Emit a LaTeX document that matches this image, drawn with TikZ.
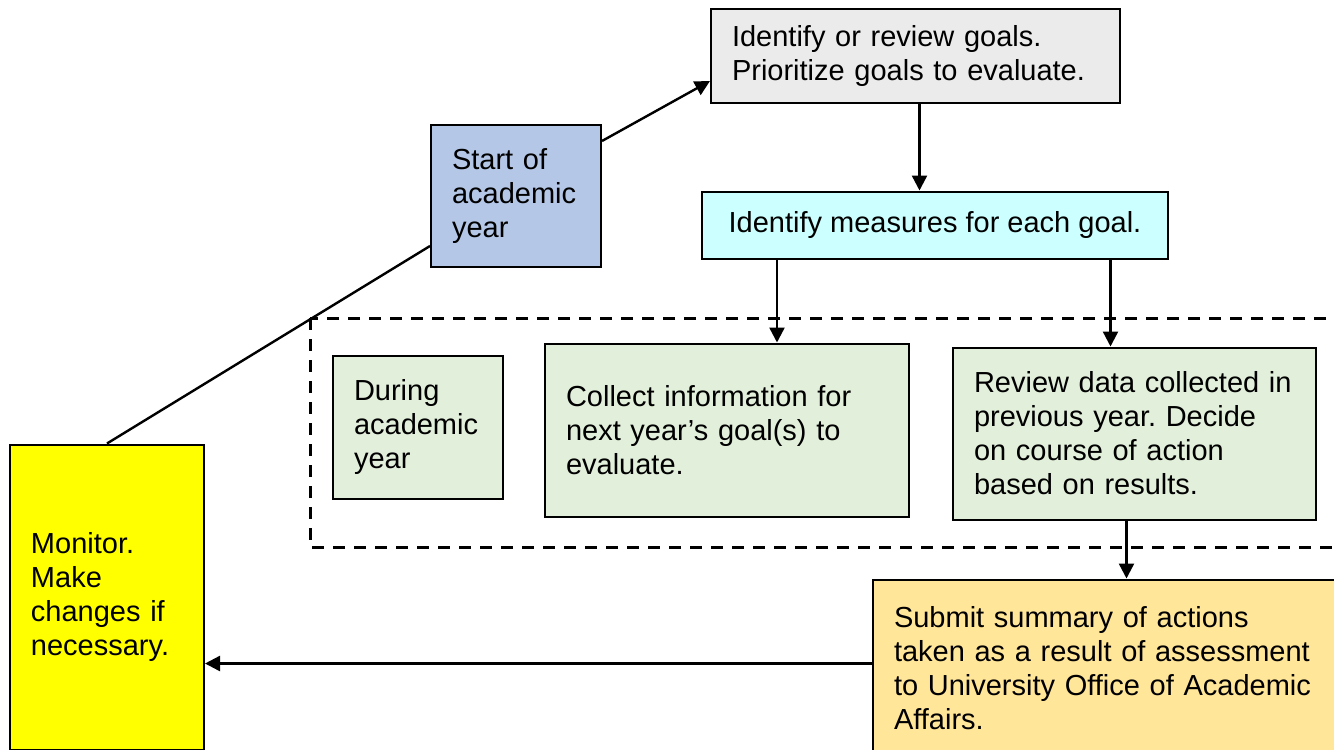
\documentclass[tikz,border=0pt]{standalone}
\usepackage{fontspec}
\setmainfont{Liberation Sans}
\frenchspacing
\usetikzlibrary{arrows.meta}
\definecolor{monitoryellow}{HTML}{FFFF00}
\definecolor{startblue}{HTML}{B4C7E7}
\definecolor{goalgray}{HTML}{EBEBEB}
\definecolor{measurecyan}{HTML}{CCFFFF}
\definecolor{yeargreen}{HTML}{E2EFDA}
\definecolor{submitgold}{HTML}{FFE699}
\begin{document}
\begin{tikzpicture}[x=0.5pt, y=-0.5pt,
		box/.style={draw, line width=1pt, inner xsep=10.5pt, align=left,
			font=\fontsize{14.5}{17}\selectfont},
		arr/.style={->, line width=1.2pt},
		>={Triangle[length=7.5pt,width=7.5pt]}]
				\useasboundingbox (0,0) rectangle (1334,750);
				\draw[dashed, line width=1.5pt, dash pattern=on 6pt off 4.5pt] (310,318) rectangle (1345,547);
				\node[box, fill=monitoryellow, minimum width=97pt, minimum height=152.5pt, text width=76pt] (monitor) at (107,597) {Monitor.\\Make\\changes if\\necessary.};
				\node[box, fill=startblue, minimum width=85pt, minimum height=71pt, text width=64pt] (start) at (516,196) {Start of\\academic\\year};
				\node[box, fill=goalgray, minimum width=204.5pt, minimum height=47pt, text width=183.5pt] (goals) at (915.5,56) {Identify or review goals.\\Prioritize goals to evaluate.};
				\node[box, fill=measurecyan, minimum width=233pt, minimum height=33.5pt, align=center] (measures) at (935,225) {Identify measures for each goal.};
				\node[box, fill=yeargreen, minimum width=85pt, minimum height=71.5pt, text width=64pt] (during) at (418,427) {During\\academic\\year};
				\node[box, fill=yeargreen, minimum width=182pt, minimum height=86.5pt, text width=161pt] (collect) at (727,430) {Collect information for\\next year’s goal(s) to\\evaluate.};
				\node[box, fill=yeargreen, minimum width=181.5pt, minimum height=86pt, text width=160.5pt] (review) at (1134.5,433.5) {Review data collected in\\previous year. Decide\\on course of action\\based on results.};
				\node[box, fill=submitgold, minimum width=236pt, minimum height=89pt, text width=215pt] (submit) at (1109,668.5) {Submit summary of actions\\taken as a result of assessment\\to University Office of Academic\\Affairs.};
				\draw[line width=1.2pt] (monitor.north) to ([yshift=11pt]start.south west);
				\draw[arr] ([yshift=-8.5pt]start.north east) to ([yshift=11.5pt]goals.south west);
				\draw[arr] ([xshift=2pt]goals.south) to ([xshift=2pt]goals.south |- measures.north);
				\draw[arr] ([xshift=25pt]collect.north |- measures.south) to ([xshift=25pt]collect.north);
				\draw[arr] ([xshift=-12pt]review.north |- measures.south) to ([xshift=-12pt]review.north);
				\draw[arr] ([xshift=-4pt]review.south) to ([xshift=-4pt]review.south |- submit.north);
				\draw[arr] ([yshift=2.5pt]submit.west) to ([yshift=2.5pt]submit.west -| monitor.east);
			\end{tikzpicture}
\end{document}
